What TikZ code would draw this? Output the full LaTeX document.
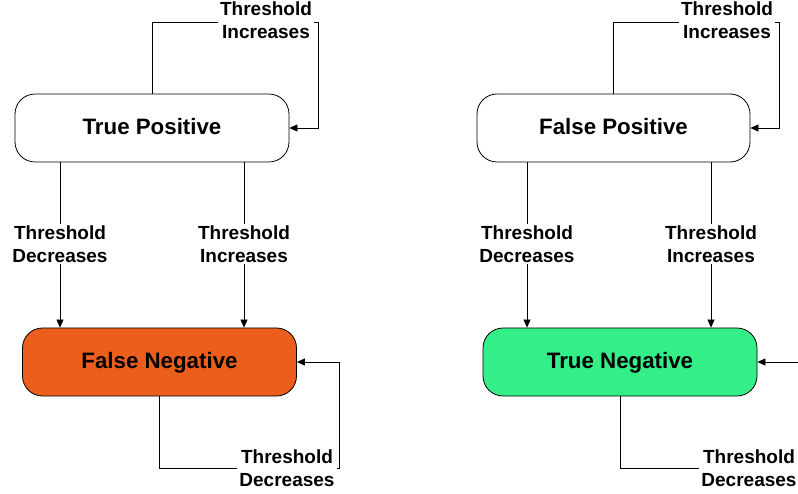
\documentclass[tikz,border=0pt]{standalone}
\usepackage{fontspec}
\setmainfont{Liberation Sans}
\usetikzlibrary{arrows.meta,backgrounds}
\definecolor{fnorange}{RGB}{235,94,27}
\definecolor{tngreen}{RGB}{52,238,136}
\tikzset{
  statebox/.style={draw=black, line width=0.8pt, rounded corners=20pt,
    minimum width=274pt, minimum height=68pt, inner sep=0pt,
    text height=16pt, text depth=2.5pt,
    font=\fontsize{22.3}{26}\selectfont\bfseries},
  lbl/.style={fill=white, align=center, inner sep=2pt,
    font=\fontsize{19}{23}\selectfont\bfseries},
  wire/.style={line width=0.8pt},
  conn/.style={wire, -{Triangle[length=8pt,width=7pt]}},
}
\begin{document}
\begin{tikzpicture}[x=1pt,y=-1pt]
\useasboundingbox (0,0) rectangle (798,494);

% ---- left pair: positive / negative under a rising or falling threshold
\node[statebox] (TP) at (152,128) {True Positive};
\node[statebox, fill=fnorange] (FN) at (159.5,362) {False Negative};
\coordinate (tpc) at (318,22);
\coordinate (fnc) at (339,468);
\coordinate (xa) at (60,0);
\coordinate (xb) at (244,0);

% ---- right pair
\node[statebox, minimum width=273pt] (FP) at (613.5,128) {False Positive};
\node[statebox, fill=tngreen] (TN) at (620,362) {True Negative};
\coordinate (fpc) at (779,22);
\coordinate (tnc) at (830,468);
\coordinate (xc) at (527,0);
\coordinate (xd) at (711,0);

\begin{scope}[on background layer]
  \draw[conn] (TP.north) |- (tpc) |- (TP.east);
  \draw[conn] (TP.south -| xa) -- (FN.north -| xa);
  \draw[conn] (TP.south -| xb) -- (FN.north -| xb);
  \draw[conn] (FN.south) |- (fnc) |- (FN.east);

  \draw[conn] (FP.north) |- (fpc) |- (FP.east);
  \draw[conn] (FP.south -| xc) -- (TN.north -| xc);
  \draw[conn] (FP.south -| xd) -- (TN.north -| xd);
  \draw[conn] (TN.south) |- (tnc) |- (TN.east);
\end{scope}

% ---- transition labels
\node[lbl] (l1) at (266,20.5) {Threshold\\Increases};
\node[lbl] (l2) at (60,244) {Threshold\\Decreases};
\node[lbl] (l3) at (244,244) {Threshold\\Increases};
\node[lbl] (l4) at (287,468) {Threshold\\Decreases};

\node[lbl] (r1) at (727,20.5) {Threshold\\Increases};
\node[lbl] (r2) at (527,244) {Threshold\\Decreases};
\node[lbl] (r3) at (711,244) {Threshold\\Increases};
\node[lbl] (r4) at (749,468) {Threshold\\Decreases};
\end{tikzpicture}
\end{document}
